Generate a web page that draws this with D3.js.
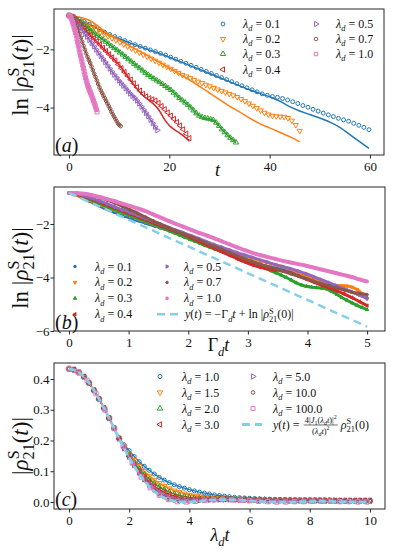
<!DOCTYPE html>
<html>
<head>
<meta charset="utf-8">
<script src="https://cdn.jsdelivr.net/npm/d3@7"></script>
<style>body{margin:0;background:#fff}</style>
</head>
<body>
<div id="chart"></div>
<script>
// ---------- data: panels (a) and (b), ln|rho_21^S| sampled uniformly in Gamma_d t from 0 to 5 ----------
const lambdaAB = ["0.1", "0.2", "0.3", "0.4", "0.5", "0.7", "1.0"];
// last time t reached by each series in panel (a)
const tEnd = [59.8, 46, 33.3, 24, 17.6, 10.3, 5.6];

const lnRhoL01 = [-0.84,-0.88,-0.96,-1.05,-1.14,-1.23,-1.32,-1.41,-1.49,-1.56,
  -1.63,-1.70,-1.77,-1.84,-1.90,-1.96,-2.02,-2.08,-2.14,-2.20,
  -2.27,-2.34,-2.41,-2.48,-2.55,-2.62,-2.69,-2.76,-2.83,-2.90,
  -2.97,-3.04,-3.11,-3.18,-3.25,-3.32,-3.39,-3.46,-3.53,-3.58,
  -3.62,-3.65,-3.69,-3.74,-3.80,-3.86,-3.93,-3.99,-4.06,-4.12,
  -4.19,-4.25,-4.31,-4.37,-4.42,-4.47,-4.54,-4.61,-4.68,-4.76];
const lnRhoL02 = [-0.84,-0.89,-0.96,-1.03,-1.11,-1.19,-1.27,-1.34,-1.41,-1.48,
  -1.55,-1.62,-1.69,-1.76,-1.83,-1.90,-1.97,-2.04,-2.11,-2.18,
  -2.25,-2.32,-2.39,-2.46,-2.53,-2.60,-2.67,-2.74,-2.81,-2.88,
  -2.93,-2.99,-3.05,-3.11,-3.16,-3.22,-3.27,-3.33,-3.38,-3.43,
  -3.48,-3.53,-3.58,-3.64,-3.71,-3.78,-3.86,-3.94,-4.02,-4.10,
  -4.18,-4.24,-4.28,-4.30,-4.31,-4.32,-4.36,-4.45,-4.60,-4.80];
const lnRhoL03 = [-0.84,-0.87,-0.92,-0.99,-1.07,-1.15,-1.23,-1.30,-1.38,-1.45,
  -1.53,-1.60,-1.67,-1.74,-1.81,-1.89,-1.96,-2.03,-2.11,-2.18,
  -2.26,-2.34,-2.42,-2.50,-2.58,-2.65,-2.73,-2.81,-2.88,-2.95,
  -3.01,-3.07,-3.13,-3.19,-3.26,-3.33,-3.40,-3.49,-3.58,-3.67,
  -3.75,-3.83,-3.91,-4.00,-4.10,-4.20,-4.28,-4.33,-4.36,-4.38,
  -4.40,-4.43,-4.52,-4.63,-4.75,-4.85,-4.95,-5.04,-5.12,-5.20];
const lnRhoL04 = [-0.84,-0.88,-0.97,-1.07,-1.18,-1.29,-1.40,-1.51,-1.62,-1.73,
  -1.84,-1.95,-2.06,-2.17,-2.28,-2.39,-2.52,-2.65,-2.78,-2.91,
  -3.04,-3.17,-3.30,-3.42,-3.53,-3.62,-3.68,-3.72,-3.76,-3.84,
  -3.95,-4.06,-4.17,-4.28,-4.39,-4.50,-4.62,-4.75,-4.90,-5.05];
const lnRhoL05 = [-0.84,-0.87,-0.95,-1.04,-1.14,-1.25,-1.36,-1.47,-1.57,-1.68,
  -1.79,-1.90,-2.01,-2.12,-2.23,-2.33,-2.44,-2.55,-2.66,-2.77,
  -2.87,-2.97,-3.07,-3.16,-3.25,-3.34,-3.43,-3.52,-3.60,-3.67,
  -3.76,-3.86,-3.97,-4.08,-4.19,-4.30,-4.42,-4.54,-4.66,-4.78];
const lnRhoL07 = [-0.84,-0.85,-0.88,-0.93,-1.01,-1.11,-1.22,-1.34,-1.47,-1.60,
  -1.74,-1.88,-2.01,-2.14,-2.26,-2.37,-2.47,-2.59,-2.72,-2.84,
  -2.95,-3.07,-3.19,-3.31,-3.41,-3.50,-3.59,-3.68,-3.77,-3.86,
  -3.95,-4.04,-4.14,-4.23,-4.31,-4.39,-4.47,-4.55,-4.60,-4.64];
const lnRhoL10 = [-0.84,-0.85,-0.87,-0.92,-0.99,-1.07,-1.15,-1.24,-1.33,-1.42,
  -1.52,-1.64,-1.76,-1.88,-2.00,-2.11,-2.22,-2.33,-2.43,-2.54,
  -2.65,-2.76,-2.87,-2.98,-3.08,-3.16,-3.24,-3.31,-3.38,-3.44,
  -3.50,-3.56,-3.63,-3.70,-3.77,-3.84,-3.91,-3.98,-4.07,-4.15];
const lnRho = [lnRhoL01, lnRhoL02, lnRhoL03, lnRhoL04, lnRhoL05, lnRhoL07, lnRhoL10];

// panel (a) solid curves [t, ln|rho|] where they leave the markers
const curveAL01 = [[0,-0.84],[4,-1.14],[8,-1.49],[12,-1.77],[16,-2.02],[20,-2.27],[24,-2.55],[28,-2.83],
  [32,-3.11],[36,-3.39],[40,-3.63],[42,-3.78],[44,-3.97],[46,-4.12],[48,-4.24],[50,-4.36],[52,-4.50],
  [54,-4.68],[56,-4.93],[58,-5.18],[59.8,-5.40]];
const curveAL02 = [[0,-0.84],[4,-1.00],[8,-1.48],[12,-1.87],[16,-2.25],[20,-2.64],[22,-2.84],[24,-3.05],
  [26,-3.27],[28,-3.50],[30,-3.73],[32,-3.95],[34,-4.15],[36,-4.36],[38,-4.55],[40,-4.70],[42,-4.85],
  [44,-5.00],[46,-5.18]];
const curveAL04 = [[0,-0.84],[2,-1.10],[4,-1.47],[6,-1.82],[8,-2.17],[10,-2.54],[12,-3.00],[14,-3.45],
  [15,-3.62],[16,-3.76],[17,-3.90],[18,-4.10],[19,-4.40],[20,-4.62],[21,-4.76],[22,-4.87],[23,-5.00],[24,-5.16]];
const curveA = [curveAL01, curveAL02, null, curveAL04, null, null, null];

// panel (b) dashed reference line [Gamma_d t, y]
const refLineB = [[0, -0.84], [5, -5.84]];

// ---------- data: panel (c), |rho_21^S| against lambda_d t, sampled every 1/6 from 0 to 10 ----------
const lambdaC = ["1.0", "1.5", "2.0", "3.0", "5.0", "10.0", "100.0"];
const rhoHead = [0.433,0.430,0.421,0.407,0.387,0.363,0.335,0.305,0.273,0.240];
const rhoL1 = [0.208,0.186,0.167,0.148,0.131,0.116,0.103,0.091,0.080,0.071,
  0.063,0.056,0.050,0.045,0.040,0.036,0.032,0.029,0.026,0.023,
  0.021,0.019,0.017,0.015,0.014,0.013,0.012,0.011,0.010,0.009,
  0.009,0.008,0.008,0.007,0.007,0.007,0.006,0.006,0.006,0.006,
  0.005,0.005,0.005,0.005,0.005,0.005,0.004,0.004,0.004,0.004,0.004];
const rhoL15 = [0.207,0.180,0.157,0.136,0.117,0.100,0.085,0.072,0.061,0.052,
  0.044,0.037,0.032,0.027,0.023,0.020,0.018,0.016,0.014,0.013,
  0.012,0.011,0.010,0.009,0.009,0.008,0.008,0.007,0.007,0.007,
  0.006,0.006,0.006,0.006,0.005,0.005,0.005,0.005,0.005,0.005,
  0.005,0.005,0.004,0.004,0.004,0.004,0.004,0.004,0.004,0.004,0.004];
const rhoL2 = [0.207,0.178,0.152,0.128,0.107,0.089,0.073,0.060,0.049,0.040,
  0.032,0.026,0.021,0.018,0.015,0.013,0.012,0.011,0.010,0.010,
  0.009,0.009,0.009,0.008,0.008,0.008,0.007,0.007,0.007,0.007,
  0.006,0.006,0.006,0.006,0.006,0.005,0.005,0.005,0.005,0.005,
  0.005,0.005,0.005,0.004,0.004,0.004,0.004,0.004,0.004,0.004,0.004];
const rhoL3 = [0.206,0.176,0.149,0.124,0.101,0.082,0.065,0.051,0.040,0.031,
  0.024,0.018,0.014,0.011,0.009,0.009,0.009,0.009,0.009,0.009,
  0.009,0.009,0.009,0.008,0.008,0.008,0.007,0.007,0.007,0.006,
  0.006,0.006,0.006,0.006,0.005,0.005,0.005,0.005,0.005,0.005,
  0.005,0.004,0.004,0.004,0.004,0.004,0.004,0.004,0.004,0.004,0.004];
const rhoL5 = [0.206,0.175,0.147,0.120,0.096,0.075,0.057,0.042,0.030,0.021,
  0.014,0.009,0.006,0.005,0.005,0.005,0.006,0.007,0.007,0.008,
  0.008,0.008,0.008,0.008,0.007,0.007,0.006,0.006,0.005,0.005,
  0.005,0.004,0.004,0.004,0.004,0.004,0.005,0.005,0.005,0.005,
  0.005,0.005,0.005,0.005,0.004,0.004,0.004,0.004,0.004,0.004,0.004];
const rhoL10 = [0.206,0.174,0.145,0.118,0.093,0.071,0.052,0.037,0.025,0.016,
  0.009,0.005,0.003,0.002,0.002,0.003,0.004,0.005,0.006,0.007,
  0.008,0.008,0.008,0.008,0.007,0.006,0.005,0.004,0.003,0.003,
  0.002,0.002,0.002,0.002,0.003,0.003,0.003,0.004,0.004,0.004,
  0.004,0.004,0.004,0.004,0.003,0.003,0.003,0.003,0.003,0.003,0.003];
// lambda_d = 100 sampled every 0.3 from 0 to 9.9
const rhoL100 = [0.433,0.423,0.396,0.352,0.299,0.240,0.181,0.127,0.081,0.046,
  0.022,0.008,0.001,0.000,0.002,0.005,0.007,0.008,0.007,0.006,
  0.004,0.002,0.001,0.000,0.000,0.001,0.001,0.002,0.002,0.002,
  0.001,0.001,0.000,0.000];
// dashed reference curve, every 1/6 from 0 to 10
const rhoRef = [0.433,0.430,0.421,0.407,0.387,0.363,0.335,0.305,0.273,0.240,
  0.206,0.174,0.144,0.116,0.091,0.069,0.050,0.034,0.022,0.013,
  0.007,0.003,0.001,0.000,0.0005,0.0016,0.0031,0.0046,0.0059,0.0068,
  0.0074,0.0076,0.0073,0.0067,0.0058,0.0048,0.0037,0.0027,0.0017,0.0010,
  0.0004,0.0001,0.0000,0.0001,0.0003,0.0006,0.0009,0.0012,0.0015,0.0017,
  0.0018,0.0018,0.0017,0.0015,0.0013,0.0010,0.0008,0.0005,0.0003,0.0001,0.0000];

const ticksAx = [0, 20, 40, 60], ticksAy = [-2, -4];
const ticksBx = [0, 1, 2, 3, 4, 5], ticksBy = [-2, -4, -6];
const ticksCx = [0, 2, 4, 6, 8, 10], ticksCy = [0, 0.1, 0.2, 0.3, 0.4];

// ---------- style ----------
const FONT = "Liberation Serif, Times New Roman, serif";
const colors = ["#1f77b4", "#ff7f0e", "#2ca02c", "#d62728", "#9467bd", "#8c564b", "#e377c2"];
const kinds = ["circle", "tdown", "tup", "tleft", "tright", "circle", "square"];
const dashColor = "#87ceeb";
const rot = { tdown: 180, tleft: -90, tright: 90 };

const svg = d3.select("#chart").append("svg")
    .attr("width", 394)
    .attr("height", 555)
    .style("background", "#fff");

function markerPath(kind, size) {
    const type = kind === "circle" ? d3.symbolCircle : kind === "square" ? d3.symbolSquare : d3.symbolTriangle;
    return d3.symbol().type(type).size(size)();
}

function drawMarkers(pts, kind, color, size, filled) {
    svg.append("g").selectAll("path").data(pts).join("path")
        .attr("d", markerPath(kind, size))
        .attr("transform", d => `translate(${d[0]},${d[1]}) rotate(${rot[kind] || 0})`)
        .attr("fill", filled ? color : "none")
        .attr("stroke", color)
        .attr("stroke-width", 1);
}

// text with italic / sub / sup pieces
function mathText(parent, x, y, parts, fs, anchor) {
    const t = parent.append("text")
        .attr("x", x).attr("y", y)
        .style("font-family", FONT)
        .attr("font-size", fs)
        .attr("text-anchor", anchor || "start")
        .attr("fill", "#111");
    let shift = 0;
    parts.forEach(p => {
        const size = (p.sub || p.sup) ? fs * 0.7 : fs;
        const off = p.sub ? fs * 0.28 : p.sup ? -fs * 0.38 : 0;
        t.append("tspan")
            .attr("font-size", size)
            .attr("font-style", p.i ? "italic" : "normal")
            .attr("dy", off - shift)
            .attr("dx", p.dx || 0)
            .text(p.t);
        shift = off;
    });
    return t;
}

// same, but centred on x by measuring the drawn width
function mathCentered(parent, x, y, parts, fs) {
    const t = mathText(parent, x, y, parts, fs);
    const b = t.node().getBBox();
    t.attr("x", x - (b.x - x) - b.width / 2);
    return t;
}

function drawAxes(x, y, xt, yt, yfmt) {
    const [x0, x1] = x.range(), [y1, y0] = y.range();
    const style = g => {
        g.attr("font-family", null);
        g.select(".domain").remove();
        g.selectAll("line").attr("stroke", "#262626");
        g.selectAll("text").style("font-family", FONT).attr("font-size", 13).attr("fill", "#111");
    };
    svg.append("g").attr("transform", `translate(0,${y1})`)
        .call(d3.axisBottom(x).tickValues(xt).tickSize(3.5).tickPadding(3.5).tickSizeOuter(0).tickFormat(d3.format("d")))
        .call(style);
    svg.append("g").attr("transform", `translate(${x0},0)`)
        .call(d3.axisLeft(y).tickValues(yt).tickSize(3.5).tickPadding(1).tickSizeOuter(0).tickFormat(yfmt || d3.format("d")))
        .call(style);
    svg.append("rect")
        .attr("x", x0).attr("y", y0)
        .attr("width", x1 - x0).attr("height", y1 - y0)
        .attr("fill", "none")
        .attr("stroke", "#262626")
        .attr("stroke-width", 1);
}

const lam = v => [{ t: "λ", i: 1 }, { t: "d", i: 1, sub: 1 }, { t: " = " + v }];
const rhoS = (fs, arg) => [{ t: "ρ", i: 1 }, { t: "S", sup: 1 }, { t: "21", sub: 1, dx: -fs * 0.7 * 0.56 },
    { t: "(" }, arg === "t" ? { t: "t", i: 1 } : { t: arg }, { t: ")|" }];

// ---------- panel (a) ----------
const xA = d3.scaleLinear().domain([-2.99, 62.8]).range([54, 384]);
const yA = d3.scaleLinear().domain([-5.63, -0.615]).range([155, 9]);
drawAxes(xA, yA, ticksAx, ticksAy);

const lineA = d3.line().x(d => xA(d[0])).y(d => yA(d[1])).curve(d3.curveMonotoneX);
lnRho.forEach((vals, k) => {
    const pts = vals.map((v, i) => [tEnd[k] * i / (vals.length - 1), v]);
    svg.append("path")
        .attr("d", lineA(curveA[k] || pts))
        .attr("fill", "none")
        .attr("stroke", colors[k])
        .attr("stroke-width", k === 6 ? 3 : 1.5);
    drawMarkers(pts.map(d => [xA(d[0]), yA(d[1])]), kinds[k], colors[k], k === 6 ? 16 : k === 5 ? 10 : 12, false);
});

// ---------- panel (b) ----------
const xB = d3.scaleLinear().domain([-0.252, 5.30]).range([54, 385]);
const yB = d3.scaleLinear().domain([-6, -0.617]).range([331, 187]);
drawAxes(xB, yB, ticksBx, ticksBy);

const lineB = d3.line().x(d => xB(d[0])).y(d => yB(d[1])).curve(d3.curveMonotoneX);
lnRho.forEach((vals, k) => {
    const pts = vals.map((v, i) => [5 * i / (vals.length - 1), v]);
    drawMarkers(pts.map(d => [xB(d[0]), yB(d[1])]), kinds[k], colors[k], 5, true);
    svg.append("path")
        .attr("d", lineB(pts))
        .attr("fill", "none")
        .attr("stroke", colors[k])
        .attr("stroke-width", k === 6 ? 4 : 3);
});
svg.append("path")
    .attr("d", lineB(refLineB))
    .attr("fill", "none")
    .attr("stroke", dashColor)
    .attr("stroke-width", 2.5)
    .attr("stroke-dasharray", "8,5");

// ---------- panel (c) ----------
const xC = d3.scaleLinear().domain([-0.498, 10.5]).range([54, 385]);
const yC = d3.scaleLinear().domain([-0.0228, 0.452]).range([509, 363]);
drawAxes(xC, yC, ticksCx, ticksCy, d3.format(".1f"));

const lineC = d3.line().x(d => xC(d[0])).y(d => yC(d[1]));
const seriesC = [rhoL1, rhoL15, rhoL2, rhoL3, rhoL5, rhoL10].map(tail => rhoHead.concat(tail));
seriesC.forEach((vals, k) => {
    const pts = vals.map((v, i) => [i / 6, v]);
    svg.append("path")
        .attr("d", lineC(pts))
        .attr("fill", "none")
        .attr("stroke", colors[k])
        .attr("stroke-width", 1.3);
    drawMarkers(pts.map(d => [xC(d[0]), yC(d[1])]), kinds[k], colors[k], k === 5 ? 10 : 13, false);
});
const pts100 = rhoL100.map((v, i) => [i * 0.3, v]);
svg.append("path").attr("d", lineC(pts100)).attr("fill", "none").attr("stroke", colors[6]).attr("stroke-width", 1.3);
drawMarkers(pts100.map(d => [xC(d[0]), yC(d[1])]), "square", colors[6], 18, false);
svg.append("path")
    .attr("d", lineC(rhoRef.map((v, i) => [i / 6, v])))
    .attr("fill", "none")
    .attr("stroke", dashColor)
    .attr("stroke-width", 2.8)
    .attr("stroke-dasharray", "7,3");

// ---------- legends ----------
function legendMarker(x, y, k, size, filled) {
    drawMarkers([[x, y]], kinds[k], colors[k], size, filled);
}
function legendDash(x0, x1, y, w) {
    svg.append("line").attr("x1", x0).attr("x2", x1).attr("y1", y).attr("y2", y)
        .attr("stroke", dashColor).attr("stroke-width", w).attr("stroke-dasharray", "8,5");
}

// (a)
const rowsA = [24, 39, 54, 69.5];
lambdaAB.forEach((v, k) => {
    const col = k < 4 ? 0 : 1, row = k < 4 ? k : k - 4;
    legendMarker([223, 316][col], rowsA[row], k, k === 5 ? 10 : 12, false);
    mathText(svg, [243, 336][col], rowsA[row] + 4, lam(v), 12);
});

// (b)
const rowsB = [266.5, 282.4, 298.3, 314.2];
lambdaAB.forEach((v, k) => {
    const col = k < 4 ? 0 : 1, row = k < 4 ? k : k - 4;
    legendMarker([75, 167][col], rowsB[row], k, 5, true);
    mathText(svg, [95, 184][col], rowsB[row] + 4, lam(v), 12);
});
legendDash(157, 178, rowsB[3], 2.5);
mathText(svg, 185, rowsB[3] + 4, [{ t: "y", i: 1 }, { t: "(" }, { t: "t", i: 1 }, { t: ") = −Γ" },
    { t: "d", i: 1, sub: 1 }, { t: "t", i: 1 }, { t: " + ln |" }].concat(rhoS(12, "0")), 12);

// (c)
const rowsC = [376.5, 392.5, 408.5, 424.5];
lambdaC.forEach((v, k) => {
    const col = k < 4 ? 0 : 1, row = k < 4 ? k : k - 4;
    legendMarker([160, 253][col], rowsC[row], k, k === 5 ? 10 : k === 6 ? 16 : 13, false);
    mathText(svg, [182, 273][col], rowsC[row] + 4, lam(v), 12);
});
legendDash(242, 262, rowsC[3], 2.8);
{
    const base = rowsC[3] + 4;
    const lhs = mathText(svg, 273, base, [{ t: "y", i: 1 }, { t: "(" }, { t: "t", i: 1 }, { t: ") =" }], 12);
    const fx = 273 + lhs.node().getBBox().width + 3;
    const num = mathText(svg, 0, base - 6, [{ t: "4|" }, { t: "J", i: 1 }, { t: "1", sub: 1 }, { t: "(" },
        { t: "λ", i: 1 }, { t: "d", i: 1, sub: 1 }, { t: "t", i: 1 }, { t: ")|" }, { t: "2", sup: 1 }], 8.5, "middle");
    const den = mathText(svg, 0, base + 5, [{ t: "(" }, { t: "λ", i: 1 }, { t: "d", i: 1, sub: 1 },
        { t: "t", i: 1 }, { t: ")" }, { t: "2", sup: 1 }], 8.5, "middle");
    const fw = Math.max(num.node().getBBox().width, den.node().getBBox().width) + 2;
    num.attr("x", fx + fw / 2);
    den.attr("x", fx + fw / 2);
    svg.append("line").attr("x1", fx).attr("x2", fx + fw).attr("y1", base - 3.5).attr("y2", base - 3.5)
        .attr("stroke", "#111").attr("stroke-width", 0.6);
    mathText(svg, fx + fw + 3, base, rhoS(12, "0").map((p, i) => i === 5 ? { t: ")" } : p), 12);
}

// ---------- axis labels and panel tags ----------
mathCentered(svg, 218, 176, [{ t: "t", i: 1 }], 18);
mathCentered(svg, 219, 351, [{ t: "Γ" }, { t: "d", i: 1, sub: 1 }, { t: "t", i: 1 }], 18);
mathCentered(svg, 220, 541, [{ t: "λ", i: 1 }, { t: "d", i: 1, sub: 1 }, { t: "t", i: 1 }], 18);

[[75, true], [268, true], [446, false]].forEach(([cy, withLn]) => {
    const g = svg.append("g").attr("transform", `translate(28,${cy}) rotate(-90)`);
    const parts = (withLn ? [{ t: "ln |" }] : [{ t: "|" }]).concat(rhoS(23, "t"));
    mathCentered(g, 0, 0, parts, 23);
});

[["a", 152], ["b", 329], ["c", 506]].forEach(([s, y]) => {
    mathText(svg, 55, y, [{ t: "(" }, { t: s, i: 1 }, { t: ")" }], 20);
});
</script>
</body>
</html>
